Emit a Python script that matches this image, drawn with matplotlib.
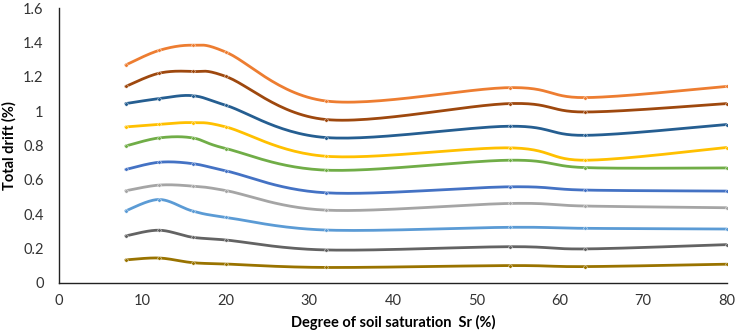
import numpy as np
import matplotlib.pyplot as plt
from matplotlib.ticker import FuncFormatter

sr = [8, 12, 16, 20, 32, 54, 63, 80]

orange = [1.27, 1.355, 1.385, 1.345, 1.06, 1.138, 1.08, 1.145]
brown = [1.145, 1.222, 1.232, 1.203, 0.952, 1.045, 0.996, 1.045]
navy = [1.045, 1.074, 1.091, 1.035, 0.847, 0.913, 0.860, 0.923]
yellow = [0.909, 0.924, 0.934, 0.909, 0.738, 0.787, 0.715, 0.789]
green = [0.798, 0.845, 0.845, 0.783, 0.657, 0.715, 0.672, 0.670]
blue = [0.661, 0.703, 0.695, 0.653, 0.525, 0.560, 0.541, 0.535]
gray = [0.537, 0.570, 0.564, 0.538, 0.424, 0.463, 0.448, 0.438]
lightblue = [0.420, 0.486, 0.419, 0.382, 0.308, 0.324, 0.318, 0.314]
darkgray = [0.274, 0.307, 0.266, 0.250, 0.192, 0.211, 0.198, 0.223]
gold = [0.134, 0.145, 0.118, 0.110, 0.090, 0.101, 0.095, 0.109]

series = [
    (lightblue, '#5B9BD5'),
    (orange, '#ED7D31'),
    (gray, '#A5A5A5'),
    (yellow, '#FFC000'),
    (blue, '#4472C4'),
    (green, '#70AD47'),
    (navy, '#255E91'),
    (brown, '#9E480E'),
    (darkgray, '#636363'),
    (gold, '#997300'),
]

plt.rcParams['font.family'] = ['Lato', 'DejaVu Sans']

fig = plt.figure(figsize=(7.37, 3.34), dpi=100)
ax = fig.add_axes([0.080, 0.153, 0.906, 0.822])

XMAX, YMAX = 80.0, 1.6
W, H = 664.0, 275.0  # rough pixel size of plot area, for smoothing


def smooth(xs, ys, n=30):
    # excel-like smoothing: catmull-rom bezier in screen space
    px = np.array(xs) / XMAX * W
    py = np.array(ys) / YMAX * H
    pts = np.column_stack([px, py])
    out = [pts[0]]
    for i in range(len(pts) - 1):
        p0 = pts[i - 1] if i > 0 else pts[i]
        p1 = pts[i]
        p2 = pts[i + 1]
        p3 = pts[i + 2] if i + 2 < len(pts) else pts[i + 1]
        c1 = p1 + (p2 - p0) / 6.0
        c2 = p2 - (p3 - p1) / 6.0
        t = np.linspace(0, 1, n)[1:, None]
        b = ((1 - t) ** 3) * p1 + 3 * ((1 - t) ** 2) * t * c1 + 3 * (1 - t) * t ** 2 * c2 + t ** 3 * p2
        out.extend(b)
    out = np.array(out)
    return out[:, 0] / W * XMAX, out[:, 1] / H * YMAX


for vals, col in series:
    sx, sy = smooth(sr, vals)
    ax.plot(sx, sy, color=col, lw=2.0, solid_capstyle='round')
    ax.plot(sr, vals, 'o', color=col, ms=2.5, mec='white', mew=0.3)

ax.set_xlim(0, 80)
ax.set_ylim(0, 1.6)
ax.set_xticks(range(0, 81, 10))
ax.set_yticks(np.arange(0, 1.61, 0.2))
ax.yaxis.set_major_formatter(FuncFormatter(lambda v, p: '%g' % round(v, 1)))
for s in ['top', 'right']:
    ax.spines[s].set_visible(False)
for s in ['left', 'bottom']:
    ax.spines[s].set_color('#222222')
    ax.spines[s].set_linewidth(1.0)
ax.tick_params(length=0, labelsize=10.5, colors='#333333', pad=8)
ax.tick_params(axis='y', pad=11)

ax.set_xlabel('Degree of soil saturation  Sr (%)', fontsize=10.5, fontweight='bold', labelpad=5)
ax.set_ylabel('Total drift (%)', fontsize=10.5, fontweight='bold', labelpad=5)

fig.savefig('out.png', dpi=100)
